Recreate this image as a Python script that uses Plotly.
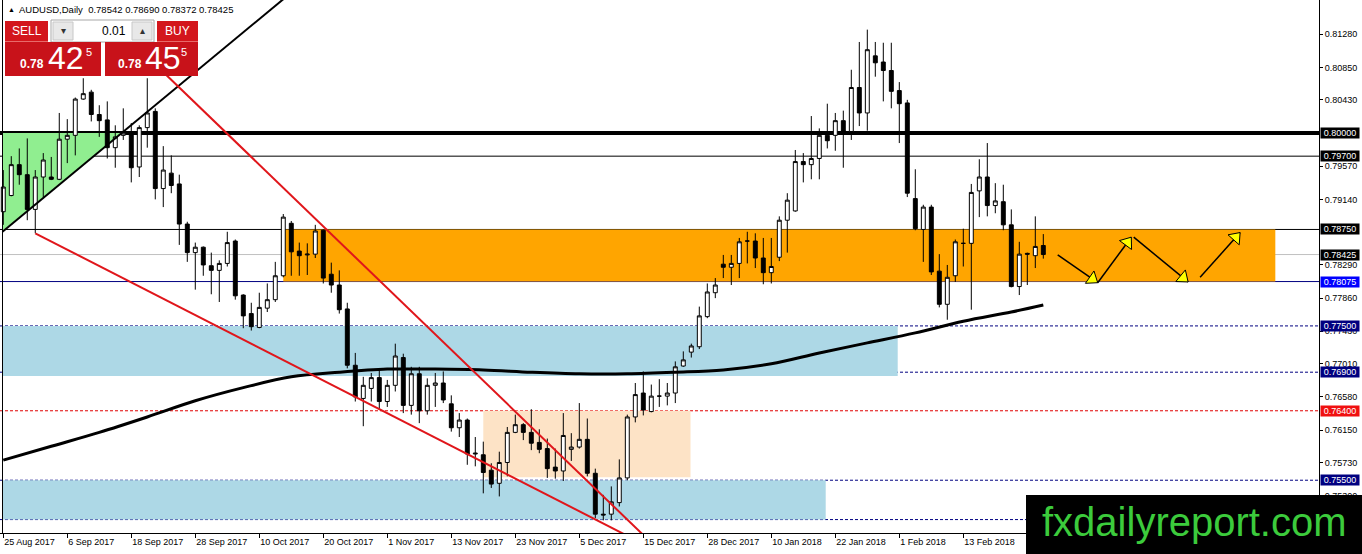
import math
import plotly.graph_objects as go

# AUDUSD daily bars, bar 0 = 25 Aug 2017, last bar = 27 Feb 2018 (weekdays, no Xmas/New Year)
opens = [
    0.7898, 0.7919, 0.7959, 0.7946, 0.7901, 0.7943, 0.7943, 0.7940, 0.7992, 0.7997,
    0.8044, 0.8053, 0.8024, 0.8017, 0.7981, 0.7997, 0.8000, 0.7956, 0.8007, 0.8028,
    0.7928, 0.7948, 0.7934, 0.7882, 0.7845, 0.7852, 0.7828, 0.7822, 0.7831, 0.7860,
    0.7790, 0.7766, 0.7748, 0.7773, 0.7784, 0.7815, 0.7883, 0.7847, 0.7842, 0.7843,
    0.7874, 0.7817, 0.7803, 0.7772, 0.7699, 0.7656, 0.7669, 0.7683, 0.7652, 0.7673,
    0.7709, 0.7647, 0.7688, 0.7640, 0.7673, 0.7676, 0.7649, 0.7618, 0.7628, 0.7584,
    0.7583, 0.7563, 0.7546, 0.7573, 0.7612, 0.7622, 0.7612, 0.7599, 0.7591, 0.7567,
    0.7562, 0.7590, 0.7593, 0.7603, 0.7559, 0.7506, 0.7506, 0.7521, 0.7553, 0.7632,
    0.7663, 0.7639, 0.7659, 0.7659, 0.7663, 0.7698, 0.7716, 0.7723, 0.7762, 0.7793,
    0.7830, 0.7826, 0.7831, 0.7860, 0.7860, 0.7838, 0.7819, 0.7839, 0.7887, 0.7899,
    0.7963, 0.7959, 0.7967, 0.7997, 0.7997, 0.8016, 0.8002, 0.8059, 0.8026, 0.8100,
    0.8092, 0.8081, 0.8055, 0.8039, 0.7915, 0.7875, 0.7904, 0.7821, 0.7778, 0.7815,
    0.7857, 0.7857, 0.7925, 0.7943, 0.7906, 0.7911, 0.7881, 0.7801, 0.7844, 0.7841,
    0.78542,
]
highs = [
    0.7952, 0.7970, 0.7980, 0.7993, 0.7952, 0.7974, 0.7969, 0.8026, 0.8018, 0.8046,
    0.8071, 0.8056, 0.8036, 0.8041, 0.8010, 0.8032, 0.8013, 0.8010, 0.8071, 0.8032,
    0.7983, 0.7971, 0.7946, 0.7885, 0.7858, 0.7853, 0.7845, 0.7835, 0.7872, 0.7862,
    0.7791, 0.7780, 0.7793, 0.7805, 0.7833, 0.7895, 0.7886, 0.7858, 0.7857, 0.7881,
    0.7875, 0.7832, 0.7822, 0.7780, 0.7715, 0.7684, 0.7689, 0.7694, 0.7680, 0.7727,
    0.7714, 0.7697, 0.7697, 0.7682, 0.7689, 0.7691, 0.7660, 0.7637, 0.7630, 0.7606,
    0.7600, 0.7572, 0.7587, 0.7619, 0.7635, 0.7624, 0.7642, 0.7616, 0.7604, 0.7591,
    0.7637, 0.7611, 0.7650, 0.7630, 0.7565, 0.7531, 0.7542, 0.7577, 0.7635, 0.7676,
    0.7691, 0.7674, 0.7681, 0.7676, 0.7704, 0.7717, 0.7727, 0.7775, 0.7805, 0.7812,
    0.7842, 0.7842, 0.7864, 0.7872, 0.7870, 0.7864, 0.7864, 0.7892, 0.7922, 0.7978,
    0.7974, 0.8022, 0.8006, 0.8038, 0.8026, 0.8029, 0.8082, 0.8118, 0.8134, 0.8118,
    0.8117, 0.8117, 0.8066, 0.8043, 0.7953, 0.7907, 0.7907, 0.7843, 0.7829, 0.7862,
    0.7876, 0.7934, 0.7966, 0.7987, 0.7935, 0.7933, 0.7901, 0.7859, 0.7845, 0.7892,
    0.78690,
]
lows = [
    0.7881, 0.7918, 0.7933, 0.7887, 0.7870, 0.7917, 0.7939, 0.7939, 0.7961, 0.7971,
    0.8043, 0.8015, 0.7995, 0.7967, 0.7955, 0.7991, 0.7936, 0.7943, 0.7981, 0.7914,
    0.7904, 0.7922, 0.7855, 0.7833, 0.7797, 0.7815, 0.7791, 0.7781, 0.7827, 0.7784,
    0.7747, 0.7744, 0.7747, 0.7768, 0.7781, 0.7813, 0.7815, 0.7815, 0.7816, 0.7838,
    0.7805, 0.7793, 0.7766, 0.7695, 0.7652, 0.7620, 0.7652, 0.7641, 0.7645, 0.7665,
    0.7637, 0.7635, 0.7624, 0.7635, 0.7645, 0.7650, 0.7613, 0.7606, 0.7570, 0.7568,
    0.7533, 0.7540, 0.7529, 0.7555, 0.7611, 0.7602, 0.7589, 0.7585, 0.7553, 0.7552,
    0.7549, 0.7575, 0.7591, 0.7555, 0.7501, 0.7498, 0.7498, 0.7516, 0.7550, 0.7625,
    0.7634, 0.7638, 0.7645, 0.7647, 0.7650, 0.7697, 0.7709, 0.7720, 0.7760, 0.7786,
    0.7812, 0.7803, 0.7812, 0.7831, 0.7825, 0.7804, 0.7805, 0.7834, 0.7845, 0.7898,
    0.7936, 0.7940, 0.7940, 0.7980, 0.7977, 0.7955, 0.7991, 0.8009, 0.8003, 0.8073,
    0.8041, 0.8032, 0.7987, 0.7917, 0.7874, 0.7833, 0.7816, 0.7774, 0.7758, 0.7807,
    0.7827, 0.7771, 0.7891, 0.7892, 0.7896, 0.7874, 0.7800, 0.7790, 0.7803, 0.7825,
    0.78372,
]
closes = [
    0.7930, 0.7959, 0.7946, 0.7901, 0.7943, 0.7965, 0.7940, 0.7992, 0.7997, 0.8044,
    0.8051, 0.8024, 0.8016, 0.7981, 0.7995, 0.8000, 0.7955, 0.8007, 0.8026, 0.7928,
    0.7952, 0.7932, 0.7882, 0.7845, 0.7852, 0.7829, 0.7822, 0.7831, 0.7858, 0.7789,
    0.7763, 0.7749, 0.7774, 0.7784, 0.7815, 0.7891, 0.7846, 0.7841, 0.7843, 0.7873,
    0.7812, 0.7803, 0.7771, 0.7699, 0.7658, 0.7673, 0.7683, 0.7652, 0.7673, 0.7711,
    0.7647, 0.7688, 0.7640, 0.7673, 0.7676, 0.7654, 0.7618, 0.7628, 0.7584, 0.7585,
    0.7560, 0.7545, 0.7573, 0.7612, 0.7622, 0.7612, 0.7598, 0.7590, 0.7565, 0.7562,
    0.7608, 0.7593, 0.7603, 0.7559, 0.7506, 0.7505, 0.7522, 0.7553, 0.7632, 0.7661,
    0.7641, 0.7659, 0.7659, 0.7663, 0.7697, 0.7706, 0.7724, 0.7763, 0.7794, 0.7803,
    0.7826, 0.7831, 0.7859, 0.7860, 0.7838, 0.7819, 0.7827, 0.7887, 0.7913, 0.7963,
    0.7959, 0.7967, 0.7997, 0.7990, 0.8016, 0.8002, 0.8059, 0.8026, 0.8108, 0.8091,
    0.8081, 0.8054, 0.8038, 0.7922, 0.7876, 0.7904, 0.7820, 0.7778, 0.7813, 0.7859,
    0.7857, 0.7923, 0.7943, 0.7906, 0.7912, 0.7881, 0.7801, 0.7843, 0.7843, 0.7853,
    0.78425,
]
bars = list(range(len(opens)))

# date labels shown every 8 bars
tick_labels = ["25 Aug 2017", "6 Sep 2017", "18 Sep 2017", "28 Sep 2017", "10 Oct 2017",
               "20 Oct 2017", "1 Nov 2017", "13 Nov 2017", "23 Nov 2017", "5 Dec 2017",
               "15 Dec 2017", "28 Dec 2017", "10 Jan 2018", "22 Jan 2018", "1 Feb 2018",
               "13 Feb 2018"]
tick_bars = [8 * i for i in range(len(tick_labels))]

price_ticks = [0.8128, 0.8085, 0.8043, 0.7957, 0.7914, 0.7829, 0.7786, 0.7743,
               0.7701, 0.7658, 0.7615, 0.7573, 0.7530]

# moving average (read every 6 bars)
ma_bars = [0, 6, 12, 18, 24, 30, 36, 42, 48, 54, 60, 66, 72, 78, 84, 90, 96, 102,
           108, 114, 120, 126, 130]
ma_values = [0.7576, 0.7594, 0.7612, 0.7632, 0.7653, 0.7670, 0.7684, 0.7690, 0.7694,
             0.7694, 0.7693, 0.7690, 0.7688, 0.7688, 0.7690, 0.7693, 0.7701, 0.7715,
             0.7728, 0.7741, 0.7756, 0.7768, 0.7777]

# marked price levels (right axis boxes)
level_prices = [0.80000, 0.79700, 0.78750, 0.78425, 0.78075, 0.77500, 0.76900, 0.76400,
                0.75500]

# plot geometry (pixels)
PLOT_W, PLOT_H = 1319, 533
X_MIN, X_MAX = -0.41, 164.46
Y_MIN, Y_MAX = 0.74816, 0.81724
PX_BAR = PLOT_W / (X_MAX - X_MIN)
PX_PRICE = PLOT_H / (Y_MAX - Y_MIN)

MT_FONT = "Liberation Sans, Arial, sans-serif"


def xp(px):
    return px / PLOT_W


def yp(py):
    return 1 - py / PLOT_H


fig = go.Figure()

fig.add_trace(go.Candlestick(
    x=bars, open=opens, high=highs, low=lows, close=closes,
    increasing=dict(line=dict(color="black", width=1), fillcolor="white"),
    decreasing=dict(line=dict(color="black", width=1), fillcolor="black"),
    whiskerwidth=0, hoverinfo="skip", showlegend=False,
))

fig.add_trace(go.Scatter(
    x=ma_bars, y=ma_values, mode="lines",
    line=dict(color="black", width=3, shape="spline"),
    hoverinfo="skip", showlegend=False,
))

shapes = []

# zones in the background
zones = [
    (-0.1, 0.7750, 111.8, 0.7685, "#ADD8E6"),
    (-0.1, 0.7550, 102.8, 0.7499, "#ADD8E6"),
    (35.0, 0.7875, 159.0, 0.78075, "#FFA500"),
    (60.0, 0.7640, 85.9, 0.7554, "#FDE3C6"),
]
for x0, y0, x1, y1, col in zones:
    shapes.append(dict(type="rect", xref="x", yref="y", x0=x0, x1=x1, y0=y0, y1=y1,
                       fillcolor=col, line=dict(width=0), layer="below"))

shapes.append(dict(type="path", xref="x", yref="y",
                   path="M -0.1,0.8 L -0.1,0.7873 L 14.8,0.8 Z",
                   fillcolor="#90EE90", line=dict(width=0), layer="below"))

# horizontal levels
hlines = [
    (0.80000, "black", 4, "solid"),
    (0.79700, "black", 1, "solid"),
    (0.78750, "black", 1, "solid"),
    (0.78425, "#C0C0C0", 1, "solid"),
    (0.78075, "#000080", 1, "solid"),
    (0.77500, "#000080", 1, "3px,2px"),
    (0.76900, "#000080", 1, "3px,2px"),
    (0.76400, "#E00000", 1, "3px,2px"),
    (0.75500, "#000080", 1, "3px,2px"),
    (0.74990, "#000080", 1, "3px,2px"),
]
for y, col, w, dash in hlines:
    shapes.append(dict(type="line", xref="paper", yref="y", x0=0, x1=1, y0=y, y1=y,
                       line=dict(color=col, width=w, dash=dash), layer="below"))

# trend lines
trend_lines = [
    (-0.1, 0.7872, 36.0, 0.8182, "black"),
    (4.0, 0.7870, 78.0, 0.7478, "#E0161B"),
    (18.3, 0.8096, 80.0, 0.7479, "#E0161B"),
]
for x0, y0, x1, y1, col in trend_lines:
    shapes.append(dict(type="line", xref="x", yref="y", x0=x0, x1=x1, y0=y0, y1=y1,
                       line=dict(color=col, width=2), layer="above"))

# left border
shapes.append(dict(type="line", xref="paper", yref="paper", x0=xp(2.5), x1=xp(2.5),
                   y0=0, y1=1, line=dict(color="black", width=1)))

# forecast arrows
arrow_paths = [
    ((131.8, 0.7842), (136.8, 0.7806)),
    ((136.8, 0.7806), (141.0, 0.7865)),
    ((141.3, 0.7865), (148.1, 0.7807)),
    ((149.6, 0.7813), (154.6, 0.7871)),
]
head_size = 13
for (x0, y0), (x1, y1) in arrow_paths:
    fig.add_trace(go.Scatter(x=[x0, x1], y=[y0, y1], mode="lines",
                             line=dict(color="black", width=1.5),
                             hoverinfo="skip", showlegend=False))
    dxp = (x1 - x0) * PX_BAR
    dyp = (y1 - y0) * PX_PRICE
    ang = math.degrees(math.atan2(dxp, dyp))
    r = head_size / 2
    cx = x1 - r * math.sin(math.radians(ang)) / PX_BAR
    cy = y1 - r * math.cos(math.radians(ang)) / PX_PRICE
    fig.add_trace(go.Scatter(x=[cx], y=[cy], mode="markers",
                             marker=dict(symbol="triangle-up", size=head_size, angle=ang,
                                         color="#FFFF00", line=dict(color="black", width=1)),
                             hoverinfo="skip", showlegend=False))

# one-click trading panel
def box(x0, y0, x1, y1, fill, line_col=None):
    shapes.append(dict(type="rect", xref="paper", yref="paper",
                       x0=xp(x0), x1=xp(x1), y0=yp(y1), y1=yp(y0),
                       fillcolor=fill, layer="above",
                       line=dict(width=1 if line_col else 0, color=line_col or fill)))


box(5, 21, 48, 41, "#D3161C")
box(51, 20, 154, 42, "white", "#A8A8A8")
box(53, 22, 73, 40, "#E8E8E8", "#C8C8C8")
box(132, 22, 152, 40, "#E8E8E8", "#C8C8C8")
box(157, 21, 198, 41, "#D3161C")
box(5, 42, 101, 76, "#C8121A")
box(105, 42, 198, 76, "#C8121A")
shapes.append(dict(type="line", xref="paper", yref="paper", x0=xp(5), x1=xp(48),
                   y0=yp(41.5), y1=yp(41.5), line=dict(color="#E86A6A", width=1), layer="above"))
shapes.append(dict(type="line", xref="paper", yref="paper", x0=xp(157), x1=xp(198),
                   y0=yp(41.5), y1=yp(41.5), line=dict(color="#E86A6A", width=1), layer="above"))

# watermark box
shapes.append(dict(type="rect", xref="paper", yref="paper", x0=xp(1026), x1=xp(1362),
                   y0=yp(554), y1=yp(495), fillcolor="black", line=dict(width=0),
                   layer="above"))

annotations = []


def label(px, py, text, size, color="white", anchor="center", bold=False, family=MT_FONT):
    if bold:
        text = "<b>" + text + "</b>"
    annotations.append(dict(xref="paper", yref="paper", x=xp(px), y=yp(py), text=text,
                            showarrow=False, xanchor=anchor, yanchor="middle",
                            font=dict(family=family, size=size, color=color)))


label(6, 10, "▲", 7, "black", "left")
label(17, 10, "AUDUSD,Daily  0.78542 0.78690 0.78372 0.78425", 9.5, "black", "left")
label(26.5, 31, "SELL", 12)
label(63, 31, "▾", 10, "#333333")
label(142, 31, "▴", 10, "#333333")
label(128, 31, "0.01", 12, "black", "right")
label(177.5, 31, "BUY", 12)
label(32, 64, "0.78", 12, bold=True)
label(65.5, 58, "42", 32)
label(89, 52, "5", 11)
label(130, 64, "0.78", 12, bold=True)
label(162.5, 58, "45", 32)
label(184, 52, "5", 11)
label(1194, 522, "fxdailyreport.com", 40, "#3CCB3C", family="Liberation Sans, Arial, sans-serif")

level_colors = ["#000000", "#000000", "#000000", "#000000", "#0000FF", "#000080",
                "#000080", "#F01010", "#000080"]
for p, col in zip(level_prices, level_colors):
    annotations.append(dict(xref="paper", yref="y", x=xp(1320.5), y=p, text=f"{p:.5f}",
                            showarrow=False, xanchor="left", yanchor="middle",
                            bgcolor=col, width=38, height=10, borderpad=0,
                            font=dict(family=MT_FONT, size=9, color="white")))

fig.update_layout(
    width=1362, height=554,
    margin=dict(l=0, r=1362 - PLOT_W, t=0, b=554 - PLOT_H),
    plot_bgcolor="white", paper_bgcolor="white",
    showlegend=False,
    shapes=shapes, annotations=annotations,
    xaxis=dict(range=[X_MIN, X_MAX], tickvals=tick_bars, ticktext=tick_labels,
               ticks="outside", ticklen=4, tickcolor="black",
               ticklabelposition="outside right",
               showline=True, linecolor="black", linewidth=1,
               showgrid=False, zeroline=False, rangeslider=dict(visible=False),
               tickfont=dict(family=MT_FONT, size=9, color="black")),
    yaxis=dict(range=[Y_MIN, Y_MAX], side="right", tickvals=price_ticks, tickformat=".5f",
               ticks="outside", ticklen=3, tickcolor="black",
               showline=True, linecolor="black", linewidth=1,
               showgrid=False, zeroline=False,
               tickfont=dict(family=MT_FONT, size=9, color="black")),
)

# page body has a default 8px margin; remove it so the figure sits at the window corner
fig.write_html("out.html", config={"displayModeBar": False},
               post_script="document.body.style.margin='0px';")
